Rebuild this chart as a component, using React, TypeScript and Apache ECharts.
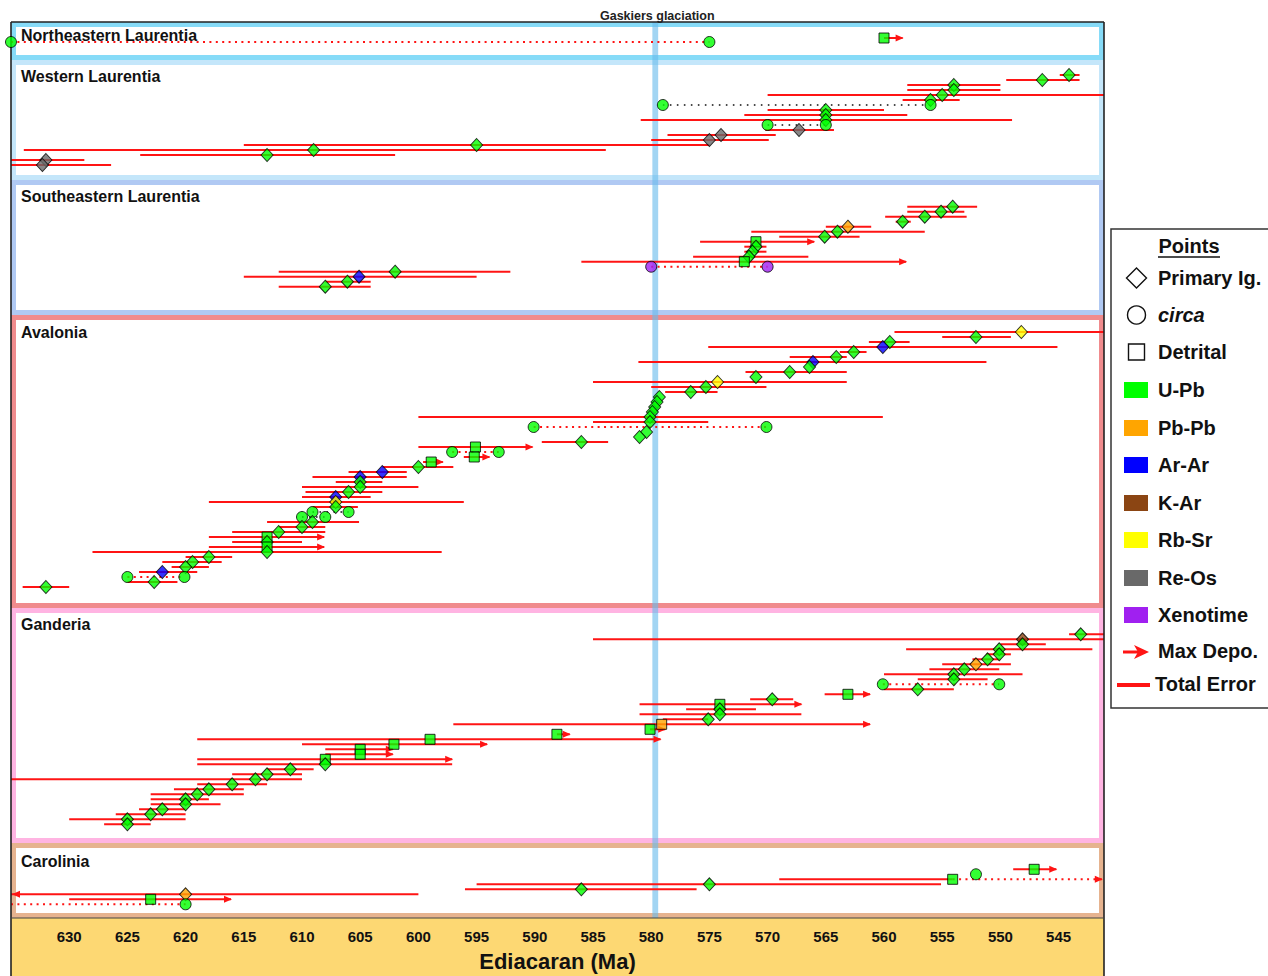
import { useEffect, useRef } from "react";
import * as echarts from "echarts";

// ---------- axis ----------
const AGE_OLDEST = 635;
const AGE_YOUNGEST = 541.1;
const tickValues = [630, 625, 620, 615, 610, 605, 600, 595, 590, 585, 580, 575, 570, 565, 560, 555, 550, 545];
const gaskiers = [579.9, 579.4];

// ---------- data ----------
// point: [lane, age, olderBound, youngerBound, shape, method, arrow]
// shape: D primary igneous, C circa, S detrital
// method: U U-Pb, P Pb-Pb, A Ar-Ar, K K-Ar, R Rb-Sr, O Re-Os, X Xenotime
// arrow: 1 max depositional (toward younger), -1 toward older, 0 none
// link: [lane, older, younger, ink, arrow]  (dotted "circa" span)

const neLaurentia = [
  [3.2, 560.0, 560.0, 558.4, "S", "U", 1],
  [4, 635.0, 635.0, 635.0, "C", "U", 0],
  [4, 575.0, 575.0, 575.0, "C", "U", 0],
];
const neLinks = [[4, 635.0, 575.0, "red", 0]];

const wLaurentia = [
  [3, 544.1, 544.9, 543.2, "D", "U", 0],
  [4, 546.4, 549.5, 543.2, "D", "U", 0],
  [5, 554.0, 558.0, 550.0, "D", "U", 0],
  [6, 554.0, 558.0, 550.0, "D", "U", 0],
  [7, 555.0, 570.0, 541.1, "D", "U", 0],
  [8, 556.0, 558.4, 553.5, "D", "U", 0],
  [9, 579.0, 579.0, 579.0, "C", "U", 0],
  [9, 556.0, 556.0, 556.0, "C", "U", 0],
  [10, 565.0, 570.0, 560.0, "D", "U", 0],
  [11, 565.0, 572.0, 558.0, "D", "U", 0],
  [12, 565.0, 580.9, 549.0, "D", "U", 0],
  [13, 570.0, 570.0, 570.0, "C", "U", 0],
  [13, 565.0, 565.0, 565.0, "C", "U", 0],
  [14, 567.3, 570.2, 564.3, "D", "O", 0],
  [15, 574.0, 578.6, 569.3, "D", "O", 0],
  [16, 575.0, 580.0, 569.9, "D", "O", 0],
  [17, 595.0, 615.0, 575.0, "D", "U", 0],
  [18, 609.0, 633.9, 583.9, "D", "U", 0],
  [19, 613.0, 623.9, 602.0, "D", "U", 0],
  [20, 632.0, 635.0, 628.7, "D", "O", 0],
  [21, 632.3, 635.0, 626.4, "D", "O", 0],
];
const wLinks = [
  [9, 579.0, 556.0, "black", 0],
  [13, 570.0, 565.0, "black", 0],
];

const seLaurentia = [
  [5, 554.1, 558.0, 552.0, "D", "U", 0],
  [6, 555.1, 558.0, 553.1, "D", "U", 0],
  [7, 556.5, 559.9, 552.9, "D", "U", 0],
  [8, 558.4, 559.0, 557.7, "D", "U", 0],
  [9, 563.1, 565.0, 561.1, "D", "P", 0],
  [10, 564.0, 571.4, 556.5, "D", "U", 0],
  [11, 565.1, 569.0, 562.1, "D", "U", 0],
  [12, 571.0, 575.8, 566.0, "S", "U", 1],
  [13, 571.0, 572.0, 570.1, "D", "U", 0],
  [14, 571.3, 572.0, 570.1, "D", "U", 0],
  [15, 571.6, 576.4, 566.5, "D", "U", 0],
  [16, 572.0, 586.0, 558.1, "S", "U", 1],
  [17, 580.0, 580.0, 580.0, "C", "X", 0],
  [17, 570.0, 570.0, 570.0, "C", "X", 0],
  [18, 602.0, 612.0, 592.1, "D", "U", 0],
  [19, 605.1, 615.0, 595.0, "D", "A", 0],
  [20, 606.1, 608.0, 604.1, "D", "U", 0],
  [21, 608.0, 612.0, 604.1, "D", "U", 0],
];
const seLinks = [[17, 580.0, 570.0, "red", 0]];

const avalonia = [
  [3, 548.2, 559.1, 541.1, "D", "R", 0],
  [4, 552.1, 555.0, 549.1, "D", "U", 0],
  [5, 559.5, 561.3, 557.8, "D", "U", 0],
  [6, 560.1, 575.1, 545.1, "D", "A", 0],
  [7, 562.6, 563.8, 561.5, "D", "U", 0],
  [8, 564.1, 568.1, 563.2, "D", "U", 0],
  [9, 566.1, 581.1, 551.2, "D", "A", 0],
  [10, 566.4, 566.4, 566.4, "D", "U", 0],
  [11, 568.1, 571.9, 563.2, "D", "U", 0],
  [12, 571.0, 571.0, 571.0, "D", "U", 0],
  [13, 574.3, 585.0, 563.2, "D", "R", 0],
  [14, 575.3, 580.0, 570.1, "D", "U", 0],
  [15, 576.6, 578.8, 574.3, "D", "U", 0],
  [16, 579.3, 579.3, 579.3, "D", "U", 0],
  [17, 579.5, 579.5, 579.5, "D", "U", 0],
  [18, 579.7, 579.7, 579.7, "D", "U", 0],
  [19, 579.9, 579.9, 579.9, "D", "U", 0],
  [20, 580.1, 600.0, 560.1, "D", "U", 0],
  [21, 580.1, 585.0, 575.1, "D", "U", 0],
  [22, 590.1, 590.1, 590.1, "C", "U", 0],
  [22, 570.1, 570.1, 570.1, "C", "U", 0],
  [23, 580.4, 580.4, 580.4, "D", "U", 0],
  [24, 581.0, 581.0, 581.0, "D", "U", 0],
  [25, 586.0, 589.4, 583.7, "D", "U", 0],
  [26, 595.1, 600.0, 590.2, "S", "U", 1],
  [27, 597.1, 597.1, 597.1, "C", "U", 0],
  [27, 593.1, 593.1, 593.1, "C", "U", 0],
  [28, 595.2, 596.1, 593.9, "S", "U", 1],
  [29, 598.9, 599.6, 597.9, "S", "U", 1],
  [30, 600.0, 603.1, 597.0, "D", "U", 0],
  [31, 603.1, 606.0, 601.0, "D", "A", 0],
  [32, 605.0, 609.1, 601.0, "D", "A", 0],
  [33, 605.0, 607.1, 603.1, "D", "U", 0],
  [34, 605.0, 610.0, 600.0, "D", "U", 0],
  [35, 606.0, 609.7, 603.1, "D", "U", 0],
  [36, 607.1, 610.0, 604.1, "D", "A", 0],
  [37, 607.1, 618.0, 596.1, "D", "R", 0],
  [38, 607.1, 609.1, 605.2, "D", "U", 0],
  [39, 609.1, 609.1, 609.1, "C", "U", 0],
  [39, 606.0, 606.0, 606.0, "C", "U", 0],
  [40, 610.0, 610.0, 610.0, "C", "U", 0],
  [40, 608.0, 608.0, 608.0, "C", "U", 0],
  [41, 609.1, 613.0, 605.1, "D", "U", 0],
  [42, 610.0, 612.0, 608.0, "D", "U", 0],
  [43, 612.0, 616.0, 608.0, "D", "U", 0],
  [44, 613.0, 618.0, 608.1, "S", "U", 1],
  [45, 613.0, 616.0, 610.0, "D", "U", 0],
  [46, 613.0, 618.0, 608.1, "S", "U", 1],
  [47, 613.0, 628.0, 598.0, "D", "U", 0],
  [48, 618.0, 620.0, 616.0, "D", "U", 0],
  [49, 619.4, 622.0, 616.9, "D", "U", 0],
  [50, 620.0, 621.2, 618.0, "D", "U", 0],
  [51, 622.0, 624.0, 619.0, "D", "A", 0],
  [52, 625.0, 625.0, 625.0, "C", "U", 0],
  [52, 620.1, 620.1, 620.1, "C", "U", 0],
  [53, 622.7, 625.0, 620.7, "D", "U", 0],
  [54, 632.0, 634.0, 630.0, "D", "U", 0],
];
const avaloniaLinks = [
  [22, 590.1, 570.1, "red", 0],
  [27, 597.1, 593.1, "red", 0],
  [39, 609.1, 606.0, "black", 0],
  [40, 610.0, 608.0, "black", 0],
  [52, 625.0, 620.1, "red", 0],
];

const ganderia = [
  [5, 543.1, 544.1, 541.1, "D", "U", 0],
  [6, 548.1, 585.0, 541.1, "D", "K", 0],
  [7, 548.1, 550.0, 546.1, "D", "U", 0],
  [8, 550.1, 558.1, 542.1, "D", "U", 0],
  [9, 550.1, 551.2, 549.1, "D", "U", 0],
  [10, 551.1, 552.4, 550.0, "D", "U", 0],
  [11, 552.1, 555.0, 549.1, "D", "P", 0],
  [12, 553.1, 556.1, 550.1, "D", "U", 0],
  [13, 554.0, 560.0, 548.1, "D", "U", 0],
  [14, 554.0, 557.1, 551.1, "D", "U", 0],
  [15, 560.1, 560.1, 560.1, "C", "U", 0],
  [15, 550.1, 550.1, 550.1, "C", "U", 0],
  [16, 557.1, 560.0, 554.0, "D", "U", 0],
  [17, 563.1, 565.1, 561.2, "S", "U", 1],
  [18, 569.6, 571.5, 567.8, "D", "U", 0],
  [19, 574.1, 581.0, 567.1, "S", "U", 1],
  [20, 574.1, 577.0, 571.0, "D", "U", 0],
  [21, 574.1, 581.0, 567.1, "D", "U", 0],
  [22, 575.1, 579.0, 575.1, "D", "U", 0],
  [23, 579.1, 597.0, 561.2, "S", "P", 1],
  [24, 580.1, 580.1, 578.8, "S", "U", 1],
  [25, 588.1, 588.1, 587.0, "S", "U", 1],
  [26, 599.0, 619.0, 579.2, "S", "U", 1],
  [27, 602.1, 610.0, 594.1, "S", "U", 1],
  [28, 605.0, 608.0, 602.2, "S", "U", 1],
  [29, 605.0, 608.0, 602.2, "S", "U", 1],
  [30, 608.0, 619.0, 597.1, "S", "U", 1],
  [31, 608.0, 619.0, 597.1, "D", "U", 0],
  [32, 611.0, 613.0, 609.0, "D", "U", 0],
  [33, 613.0, 616.0, 610.0, "D", "U", 0],
  [34, 614.0, 635.0, 610.0, "D", "U", 0],
  [35, 616.0, 619.0, 613.0, "D", "U", 0],
  [36, 618.0, 621.0, 615.0, "D", "U", 0],
  [37, 619.0, 623.0, 615.0, "D", "U", 0],
  [38, 620.0, 623.0, 618.0, "D", "U", 0],
  [39, 620.0, 623.0, 617.0, "D", "U", 0],
  [40, 622.0, 624.0, 620.0, "D", "U", 0],
  [41, 623.0, 626.0, 620.0, "D", "U", 0],
  [42, 625.0, 630.0, 620.0, "D", "U", 0],
  [43, 625.0, 627.0, 623.0, "D", "U", 0],
];
const ganderiaLinks = [[15, 560.1, 550.1, "red", 0]];

const carolinia = [
  [5, 547.1, 548.9, 545.2, "S", "U", 1],
  [6, 552.1, 552.1, 552.1, "C", "U", 0],
  [7, 554.1, 569.0, 554.1, "S", "U", 0],
  [8, 575.0, 595.0, 555.1, "D", "U", 0],
  [9, 586.0, 596.0, 576.1, "D", "U", 0],
  [10, 620.0, 635.0, 600.0, "D", "P", -1],
  [11, 623.0, 630.0, 616.1, "S", "U", 1],
  [12, 620.0, 620.0, 620.0, "C", "U", 0],
];
const caroliniaLinks = [
  [7, 554.1, 541.2, "red", 1],
  [12, 636.0, 620.0, "red", 0],
];

// ---------- legend content ----------
const shapeLegend = [
  ["D", "Primary Ig."],
  ["C", "circa"],
  ["S", "Detrital"],
];
const methodLegend = [
  ["U", "U-Pb"],
  ["P", "Pb-Pb"],
  ["A", "Ar-Ar"],
  ["K", "K-Ar"],
  ["R", "Rb-Sr"],
  ["O", "Re-Os"],
  ["X", "Xenotime"],
];

// ---------- styles ----------
const FONT = "'Liberation Sans', Arial, Helvetica, sans-serif";
const RED = "#ff1414";
const METHOD_COLOR: Record<string, string> = {
  U: "#00ff00",
  P: "#ffa500",
  A: "#0000ff",
  K: "#8b4513",
  R: "#ffff00",
  O: "#696969",
  X: "#a020f0",
};
const SHAPE: Record<string, { symbol: string; size: number | number[] }> = {
  D: { symbol: "diamond", size: [12, 13] },
  C: { symbol: "circle", size: 11 },
  S: { symbol: "rect", size: 10 },
};
const LANE_PX = 5;
const PLOT = { left: 11, right: 1104, top: 22, bottom: 918 };

const panels = [
  { name: "Northeastern Laurentia", points: neLaurentia, links: neLinks, frameTop: 22, frameBottom: 60, laneTop: 22, titleY: 35, frame: "#86dbf8" },
  { name: "Western Laurentia", points: wLaurentia, links: wLinks, frameTop: 60, frameBottom: 180, laneTop: 60, titleY: 76, frame: "#c4e6fa" },
  { name: "Southeastern Laurentia", points: seLaurentia, links: seLinks, frameTop: 180, frameBottom: 315, laneTop: 181.7, titleY: 196, frame: "#b0c9f3" },
  { name: "Avalonia", points: avalonia, links: avaloniaLinks, frameTop: 315, frameBottom: 608, laneTop: 317, titleY: 332, frame: "#f08b8d" },
  { name: "Ganderia", points: ganderia, links: ganderiaLinks, frameTop: 608, frameBottom: 843, laneTop: 609.3, titleY: 624, frame: "#ffb4e2" },
  { name: "Carolinia", points: carolinia, links: caroliniaLinks, frameTop: 843, frameBottom: 918, laneTop: 844.3, titleY: 861, frame: "#e6b38f" },
];

function clampX(cs: any, x: number) {
  return Math.max(cs.x, Math.min(cs.x + cs.width, x));
}

function renderError(params: any, api: any) {
  const older = api.value(0);
  const lane = api.value(1);
  const younger = api.value(2);
  const arrow = api.value(3);
  const cs = params.coordSys;
  const a = api.coord([older, lane]);
  const b = api.coord([younger, lane]);
  const x1 = clampX(cs, a[0]);
  const x2 = clampX(cs, b[0]);
  const y = a[1];
  const children: any[] = [
    { type: "line", shape: { x1, y1: y, x2, y2: y }, style: { stroke: RED, lineWidth: 2 } },
  ];
  if (arrow === 1) {
    children.push({
      type: "polygon",
      shape: { points: [[x2 + 1, y], [x2 - 7, y - 3.5], [x2 - 7, y + 3.5]] },
      style: { fill: RED },
    });
  } else if (arrow === -1) {
    children.push({
      type: "polygon",
      shape: { points: [[x1 + 1, y], [x1 + 9, y - 3.5], [x1 + 9, y + 3.5]] },
      style: { fill: RED },
    });
  }
  return { type: "group", children };
}

function renderLink(params: any, api: any) {
  const older = api.value(0);
  const lane = api.value(1);
  const younger = api.value(2);
  const black = api.value(3) === 1;
  const arrow = api.value(4);
  const cs = params.coordSys;
  const a = api.coord([older, lane]);
  const b = api.coord([younger, lane]);
  const x1 = clampX(cs, a[0]);
  const x2 = clampX(cs, b[0]);
  const y = a[1];
  const children: any[] = [
    {
      type: "line",
      shape: { x1, y1: y, x2, y2: y },
      style: black
        ? { stroke: "#111", lineWidth: 1.6, lineDash: [1.6, 5.4] }
        : { stroke: RED, lineWidth: 2, lineDash: [2, 4.4] },
    },
  ];
  if (arrow === 1) {
    children.push({
      type: "polygon",
      shape: { points: [[x2, y], [x2 - 8, y - 3.5], [x2 - 8, y + 3.5]] },
      style: { fill: RED },
    });
  }
  return { type: "group", children };
}

function renderBand(params: any, api: any) {
  const cs = params.coordSys;
  const a = api.coord([api.value(0), 0]);
  const b = api.coord([api.value(1), 0]);
  const x = Math.min(a[0], b[0]);
  const w = Math.abs(b[0] - a[0]);
  return {
    type: "group",
    children: [
      {
        type: "rect",
        shape: { x, y: cs.y, width: w, height: cs.height },
        style: { fill: "rgba(105,188,236,0.62)" },
      },
      {
        type: "text",
        x: x + w / 2 + 2,
        y: cs.y - 6,
        style: {
          text: "Gaskiers glaciation",
          fill: "#222",
          font: `bold 12.5px ${FONT}`,
          align: "center",
          verticalAlign: "middle",
          textAlign: "center",
          textVerticalAlign: "middle",
        },
      },
    ],
  };
}

function buildOption() {
  const grid: any[] = [];
  const xAxis: any[] = [];
  const yAxis: any[] = [];
  const series: any[] = [];
  const graphic: any[] = [];

  panels.forEach((p, i) => {
    const height = p.frameBottom - p.laneTop;
    grid.push({ left: PLOT.left, top: p.laneTop, width: PLOT.right - PLOT.left, height, outerBoundsMode: "none", containLabel: false });
    xAxis.push({ gridIndex: i, type: "value", min: AGE_YOUNGEST, max: AGE_OLDEST, inverse: true, show: false, splitLine: { show: false } });
    yAxis.push({ gridIndex: i, type: "value", min: 0, max: height / LANE_PX, inverse: true, show: false, splitLine: { show: false } });

    const errData = p.points
      .filter((d: any) => d[2] !== d[3])
      .map((d: any) => [d[2], d[0], d[3], d[6]]);
    const linkData = p.links.map((l: any) => [l[1], l[0], l[2], l[3] === "black" ? 1 : 0, l[4]]);
    const pointData = p.points.map((d: any) => ({
      value: [d[1], d[0]],
      symbol: SHAPE[d[4]].symbol,
      symbolSize: SHAPE[d[4]].size,
      itemStyle: { color: METHOD_COLOR[d[5]], borderColor: "#000", borderWidth: 1 },
    }));
    series.push(
      { type: "custom", name: p.name + " error", xAxisIndex: i, yAxisIndex: i, z: 2, silent: true, data: errData, renderItem: renderError },
      { type: "custom", name: p.name + " circa", xAxisIndex: i, yAxisIndex: i, z: 2, silent: true, data: linkData, renderItem: renderLink },
      { type: "scatter", name: p.name, xAxisIndex: i, yAxisIndex: i, z: 4, silent: true, clip: false, data: pointData }
    );

    // panel frame
    graphic.push({
      type: "rect",
      z: 0,
      silent: true,
      shape: { x: PLOT.left, y: p.frameTop, width: PLOT.right - PLOT.left, height: p.frameBottom - p.frameTop },
      style: { fill: p.frame },
    });
    graphic.push({
      type: "rect",
      z: 0.5,
      silent: true,
      shape: { x: PLOT.left + 5, y: p.frameTop + 5, width: PLOT.right - PLOT.left - 10, height: p.frameBottom - p.frameTop - 10 },
      style: { fill: "#ffffff" },
    });
    graphic.push({
      type: "text",
      z: 10,
      silent: true,
      x: 21,
      y: p.titleY,
      style: { text: p.name, fill: "#111", font: `bold 16px ${FONT}`, textAlign: "left", textVerticalAlign: "middle", align: "left", verticalAlign: "middle" },
    });
  });

  // overall grid for axis + glaciation band
  const gi = panels.length;
  grid.push({
    left: PLOT.left,
    top: PLOT.top,
    width: PLOT.right - PLOT.left,
    height: PLOT.bottom - PLOT.top,
    outerBoundsMode: "none",
    containLabel: false,
  });
  xAxis.push({
    gridIndex: gi,
    type: "value",
    min: AGE_YOUNGEST,
    max: AGE_OLDEST,
    inverse: true,
    axisLine: { show: false, onZero: false },
    axisTick: { show: false },
    splitLine: { show: false },
    axisLabel: {
      customValues: tickValues,
      color: "#111",
      fontFamily: FONT,
      fontWeight: "bold",
      fontSize: 15,
      margin: 11,
    },
    name: "Ediacaran (Ma)",
    nameLocation: "middle",
    nameGap: 32,
    nameTextStyle: { color: "#111", fontFamily: FONT, fontWeight: "bold", fontSize: 22 },
  });
  yAxis.push({ gridIndex: gi, type: "value", min: 0, max: 1, show: false, splitLine: { show: false } });
  series.unshift({
    type: "custom",
    name: "Gaskiers glaciation",
    xAxisIndex: gi,
    yAxisIndex: gi,
    z: 1,
    silent: true,
    data: [gaskiers],
    renderItem: renderBand,
  });

  // bottom axis band
  graphic.push({
    type: "rect",
    z: 0,
    silent: true,
    shape: { x: PLOT.left, y: PLOT.bottom, width: PLOT.right - PLOT.left, height: 976 - PLOT.bottom },
    style: { fill: "#fdd873" },
  });
  // outline
  const ink = { stroke: "#222", lineWidth: 1.6 };
  graphic.push(
    { type: "line", z: 3, silent: true, shape: { x1: PLOT.left, y1: PLOT.top, x2: PLOT.left, y2: 976 }, style: ink },
    { type: "line", z: 3, silent: true, shape: { x1: PLOT.right, y1: PLOT.top, x2: PLOT.right, y2: 976 }, style: ink },
    { type: "line", z: 3, silent: true, shape: { x1: PLOT.left, y1: PLOT.top, x2: PLOT.right, y2: PLOT.top }, style: ink },
    { type: "line", z: 3, silent: true, shape: { x1: PLOT.left, y1: PLOT.bottom, x2: PLOT.right, y2: PLOT.bottom }, style: { stroke: "#444", lineWidth: 1 } }
  );

  // legend
  const LX = 1111;
  const textStyle = (text: string, extra: any = {}) => ({
    text,
    fill: "#111",
    font: `bold 20px ${FONT}`,
    textAlign: "left",
    textVerticalAlign: "middle",
    align: "left",
    verticalAlign: "middle",
    ...extra,
  });
  graphic.push({
    type: "rect",
    z: 10,
    silent: true,
    shape: { x: LX, y: 229, width: 170, height: 479 },
    style: { fill: "#fff", stroke: "#333", lineWidth: 1.5 },
  });
  graphic.push({
    type: "text",
    z: 11,
    silent: true,
    x: 1189,
    y: 246,
    style: textStyle("Points", { textAlign: "center", align: "center" }),
  });
  graphic.push({ type: "line", z: 11, silent: true, shape: { x1: 1158, y1: 257, x2: 1220, y2: 257 }, style: { stroke: "#111", lineWidth: 1.5 } });

  const shapeY = [278, 315, 352];
  shapeLegend.forEach(([k, label], j) => {
    const cy = shapeY[j];
    const cx = 1136.5;
    let el: any;
    if (k === "D") {
      el = { type: "polygon", shape: { points: [[cx, cy - 10], [cx + 10, cy], [cx, cy + 10], [cx - 10, cy]] } };
    } else if (k === "C") {
      el = { type: "circle", shape: { cx, cy, r: 9 } };
    } else {
      el = { type: "rect", shape: { x: cx - 8, y: cy - 8, width: 16, height: 16 } };
    }
    graphic.push({ ...el, z: 11, silent: true, style: { fill: "#fff", stroke: "#111", lineWidth: 1.4 } });
    graphic.push({
      type: "text",
      z: 11,
      silent: true,
      x: 1158,
      y: cy,
      style: textStyle(label, k === "C" ? { font: `italic bold 20px ${FONT}` } : {}),
    });
  });

  const methodY = [390, 428, 465, 503, 540, 578, 615];
  methodLegend.forEach(([k, label], j) => {
    const cy = methodY[j];
    graphic.push({
      type: "rect",
      z: 11,
      silent: true,
      shape: { x: 1124, y: cy - 8, width: 24, height: 16 },
      style: { fill: METHOD_COLOR[k] },
    });
    graphic.push({ type: "text", z: 11, silent: true, x: 1158, y: cy, style: textStyle(label) });
  });

  graphic.push(
    { type: "line", z: 11, silent: true, shape: { x1: 1123, y1: 652, x2: 1140, y2: 652 }, style: { stroke: RED, lineWidth: 3 } },
    {
      type: "polygon",
      z: 11,
      silent: true,
      shape: { points: [[1149, 652], [1134, 645], [1138, 652], [1134, 659]] },
      style: { fill: RED },
    },
    { type: "text", z: 11, silent: true, x: 1158, y: 651, style: textStyle("Max Depo.") },
    { type: "line", z: 11, silent: true, shape: { x1: 1117, y1: 685, x2: 1150, y2: 685 }, style: { stroke: RED, lineWidth: 4 } },
    { type: "text", z: 11, silent: true, x: 1155, y: 684, style: textStyle("Total Error") }
  );

  return {
    animation: false,
    backgroundColor: "#ffffff",
    textStyle: { fontFamily: FONT },
    grid,
    xAxis,
    yAxis,
    series,
    graphic,
  };
}

export default function App() {
  const ref = useRef<HTMLDivElement>(null);
  useEffect(() => {
    if (!ref.current) return;
    const chart = echarts.init(ref.current, null, { renderer: "svg" });
    chart.setOption(buildOption() as any);
    return () => chart.dispose();
  }, []);
  return (
    <div
      ref={ref}
      style={{ position: "absolute", left: 0, top: 0, width: 1268, height: 976, background: "#fff" }}
    />
  );
}
